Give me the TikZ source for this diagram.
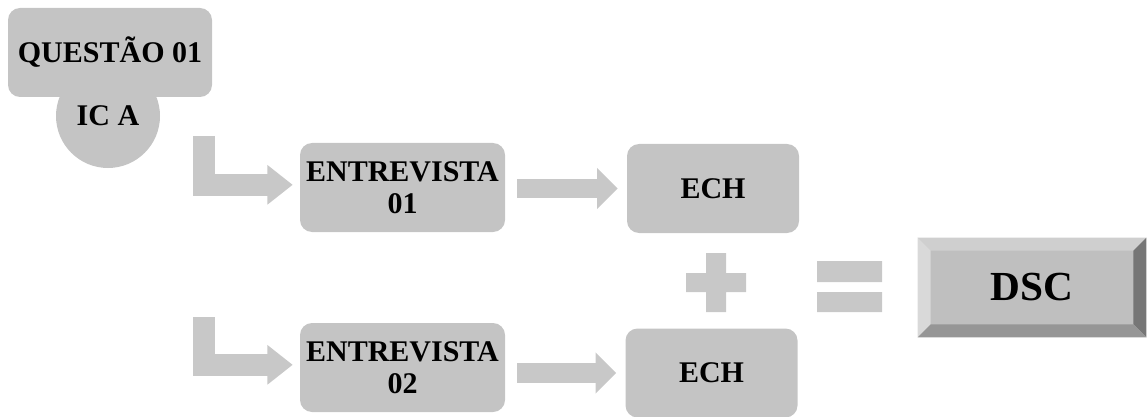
\documentclass[tikz,border=0pt]{standalone}
\usepackage{fontspec}
\setmainfont{Liberation Serif}
\usetikzlibrary{arrows.meta,calc}

\definecolor{boxGray}{HTML}{C4C4C4}
\definecolor{arrowGray}{HTML}{C8C8C8}
\definecolor{faceGray}{HTML}{BFBFBF}

\begin{document}
\begin{tikzpicture}
[x=0.75pt,y=-0.75pt,
  boxDecorate/.style={shape=rectangle,rounded corners=9pt,fill=boxGray,
    minimum height=66.75pt,align=center,inner sep=2pt,
    font=\fontsize{22.5}{24}\selectfont\bfseries},%
  circleDecorate/.style={shape=circle,fill=boxGray,minimum size=78pt,
    inner sep=0pt,font=\fontsize{22.5}{24}\selectfont\bfseries},%
  arrowDecorate/.style={draw=arrowGray,line width=14.5pt,
    -{Triangle[length=15.5pt,width=30pt]}},%
  bentDecorate/.style={draw=arrowGray,line width=16.5pt,line join=miter,
    -{Triangle[length=19pt,width=28.5pt]}}]
\useasboundingbox (0,0) rectangle (1148,417);
%% question and its category
\node (ica) at (108,116) [circleDecorate] {\raisebox{-2pt}{IC A}};
\node (quest) at (110,52.5) [boxDecorate,minimum width=153pt] {QUESTÃO 01};
%% interviews and their key expressions
\foreach \nodename/\x/\y/\txt in {ent1/402.5/187.5/{ENTREVISTA\\01},
                                 ent2/402.5/367.5/{ENTREVISTA\\02}} {
  \node (\nodename) at (\x,\y) [boxDecorate,minimum width=153.75pt] {\txt};
}
\foreach \nodename/\x/\y in {ech1/713/188.5, ech2/711.5/373} {
  \node (\nodename) at (\x,\y) [boxDecorate,minimum width=129pt] {ECH};
}
%% result with bevelled border
\node (dsc) at (1032,287.5) [shape=rectangle,fill=faceGray,minimum width=171pt,
  minimum height=74.25pt,font=\fontsize{31}{34}\selectfont\bfseries] {DSC};
\fill[color={rgb,255:red,207;green,207;blue,207}] (dsc.north west) -- (dsc.north east)
  -- ($(dsc.north east)+(-9.75pt,-9.75pt)$) -- ($(dsc.north west)+(9.75pt,-9.75pt)$) -- cycle;
\fill[color={rgb,255:red,217;green,217;blue,217}] (dsc.north west) -- (dsc.south west)
  -- ($(dsc.south west)+(9.75pt,9.75pt)$) -- ($(dsc.north west)+(9.75pt,-9.75pt)$) -- cycle;
\fill[color={rgb,255:red,118;green,118;blue,118}] (dsc.north east) -- (dsc.south east)
  -- ($(dsc.south east)+(-9.75pt,9.75pt)$) -- ($(dsc.north east)+(-9.75pt,-9.75pt)$) -- cycle;
\fill[color={rgb,255:red,150;green,150;blue,150}] (dsc.south west) -- (dsc.south east)
  -- ($(dsc.south east)+(-9.75pt,9.75pt)$) -- ($(dsc.south west)+(9.75pt,9.75pt)$) -- cycle;
%% plus and equals signs
\fill[arrowGray] (706,253) rectangle (726,312) (686,273) rectangle (746,292);
\fill[arrowGray] (817,261) rectangle (882,282) (817,292) rectangle (882,312);
%% arrows
\coordinate (bend1) at (204,136);
\coordinate (bend2) at (204,317);
\foreach \startnode/\endnode in {bend1/ent1, bend2/ent2} {
  \draw[bentDecorate] (\startnode) |- ([xshift=-5.25pt,yshift=2pt]\endnode.west);
}
\path
\foreach \startnode/\endnode in {ent1/ech1, ent2/ech2} {
  ([xshift=9pt]\startnode.east |- \endnode.west) edge[arrowDecorate] ([xshift=-6.75pt]\endnode.west)
};
\end{tikzpicture}
\end{document}
